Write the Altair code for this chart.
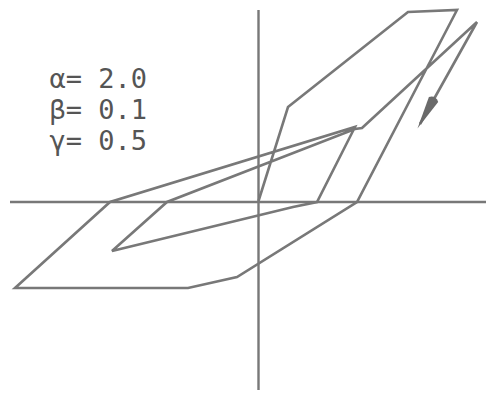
import altair as alt
import pandas as pd

# Hysteresis trace (displacement, force)
path_x = [0.00, 0.295, 1.495, 1.985, 0.985, -0.215, -0.705, -2.435, -1.485, 0.965,
          0.585, 0.345, -1.465, -0.915, 0.965, 1.035, 2.185, 1.615]
path_y = [0.01, 0.95, 1.90, 1.92, 0.00, -0.75, -0.86, -0.86, 0.00, 0.75,
          0.00, -0.05, -0.49, 0.00, 0.73, 0.74, 1.80, 0.78]

# arrow head at the end of the trace
arrow_x = [1.67]
arrow_y = [0.88]

# parameter labels
labels = ["α= 2.0", "β= 0.1", "γ= 0.5"]
label_x = [-2.09, -2.09, -2.09]
label_y = [1.22, 0.91, 0.60]

X_DOM = [-2.505, 2.275]
Y_DOM = [-1.88, 1.94]

path_df = pd.DataFrame({"x": path_x, "y": path_y, "i": list(range(len(path_x)))})
arrow_df = pd.DataFrame({"x": arrow_x, "y": arrow_y})
label_df = pd.DataFrame({"t": labels, "x": label_x, "y": label_y})
vaxis_df = pd.DataFrame({"x": [0.0], "y": [1.92], "y2": [-1.88]})
haxis_df = pd.DataFrame({"y": [0.0], "x": [-2.485], "x2": [2.275]})

xs = alt.Scale(domain=X_DOM, nice=False, zero=False)
ys = alt.Scale(domain=Y_DOM, nice=False, zero=False)

GRAY = "#787878"

vaxis = alt.Chart(vaxis_df).mark_rule(color=GRAY, strokeWidth=2.4).encode(
    x=alt.X("x:Q", scale=xs, axis=None),
    y=alt.Y("y:Q", scale=ys, axis=None),
    y2="y2:Q",
)
haxis = alt.Chart(haxis_df).mark_rule(color=GRAY, strokeWidth=2.4).encode(
    x=alt.X("x:Q", scale=xs, axis=None),
    x2="x2:Q",
    y=alt.Y("y:Q", scale=ys, axis=None),
)

trace = alt.Chart(path_df).mark_line(color=GRAY, strokeWidth=2.6).encode(
    x=alt.X("x:Q", scale=xs, axis=None),
    y=alt.Y("y:Q", scale=ys, axis=None),
    order="i:O",
)

arrow = alt.Chart(arrow_df).mark_point(
    shape="M-0.32,-1 Q0,-1.3 0.32,-1 L0,1 Z",
    filled=True, size=1100, angle=29, color="#6a6a6a", opacity=1,
).encode(
    x=alt.X("x:Q", scale=xs, axis=None),
    y=alt.Y("y:Q", scale=ys, axis=None),
)

text = alt.Chart(label_df).mark_text(
    align="left", baseline="middle", font="DejaVu Sans Mono",
    fontSize=27, color="#555555",
).encode(
    x=alt.X("x:Q", scale=xs, axis=None),
    y=alt.Y("y:Q", scale=ys, axis=None),
    text="t:N",
)

chart = alt.layer(vaxis, haxis, trace, arrow, text).properties(
    width=478, height=382,
    autosize=alt.AutoSizeParams(type="none"),
    padding=0,
).configure_view(stroke=None)

chart.save("out.html", embed_options={"renderer": "svg", "actions": False})
